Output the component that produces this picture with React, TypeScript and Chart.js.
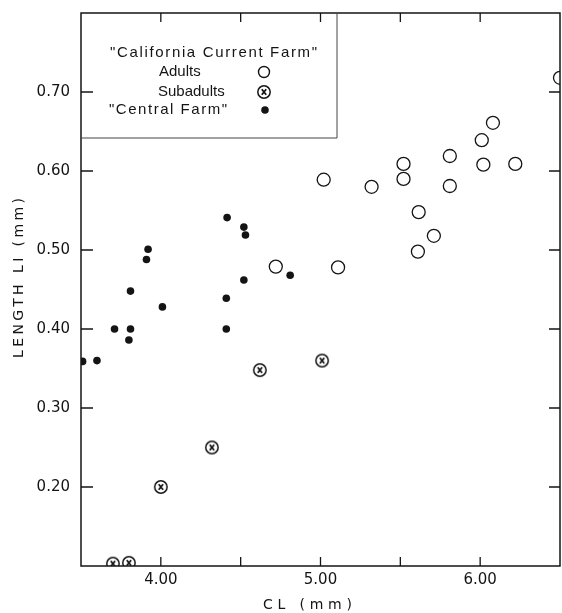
import React, { useEffect, useRef } from "react";
import { Chart, registerables } from "chart.js";

Chart.register(...registerables);

// ---- data (CL in mm, LI length in mm) ----
const adultsCL = [4.72, 5.02, 5.11, 5.32, 5.52, 5.52, 5.615, 5.61, 5.71, 5.81, 5.81, 6.01, 6.02, 6.08, 6.22, 6.5];
const adultsLI = [0.479, 0.589, 0.478, 0.58, 0.609, 0.59, 0.548, 0.498, 0.518, 0.619, 0.581, 0.639, 0.608, 0.661, 0.609, 0.718];

const subadultsCL = [3.7, 3.8, 4.0, 4.32, 4.62, 5.01];
const subadultsLI = [0.103, 0.104, 0.2, 0.25, 0.348, 0.36];

const centralCL = [3.51, 3.6, 3.71, 3.81, 3.8, 3.81, 3.91, 3.92, 4.01, 4.415, 4.52, 4.53, 4.52, 4.41, 4.41, 4.81];
const centralLI = [0.359, 0.36, 0.4, 0.4, 0.386, 0.448, 0.488, 0.501, 0.428, 0.541, 0.529, 0.519, 0.462, 0.439, 0.4, 0.468];

const xTickLabels: Record<string, string> = { "4": "4.00", "5": "5.00", "6": "6.00" };
const yTickLabels: Record<string, string> = {
  "0.2": "0.20",
  "0.3": "0.30",
  "0.4": "0.40",
  "0.5": "0.50",
  "0.6": "0.60",
  "0.7": "0.70",
};

const legendTitle = '"California Current Farm"';
const legendAdults = "Adults";
const legendSubadults = "Subadults";
const legendCentral = '"Central Farm"';
const xTitle = "CL (mm)";
const yTitle = "LENGTH LI (mm)";

const INK = "#141414";

function makeCrossCircle(): HTMLCanvasElement {
  const c = document.createElement("canvas");
  c.width = 16;
  c.height = 16;
  const g = c.getContext("2d")!;
  g.strokeStyle = INK;
  g.lineWidth = 1.5;
  g.beginPath();
  g.arc(8, 8, 6.2, 0, Math.PI * 2);
  g.stroke();
  g.lineWidth = 1.8;
  g.beginPath();
  g.moveTo(5.8, 5.3);
  g.lineTo(10.2, 10.7);
  g.moveTo(10.2, 5.3);
  g.lineTo(5.8, 10.7);
  g.stroke();
  return c;
}

function spacedText(ctx: CanvasRenderingContext2D, text: string, left: number, cy: number, width: number) {
  (ctx as any).letterSpacing = "0px";
  const w = ctx.measureText(text).width;
  const sp = Math.max(0, (width - w) / Math.max(1, text.length - 1));
  (ctx as any).letterSpacing = sp + "px";
  ctx.textAlign = "left";
  ctx.textBaseline = "middle";
  ctx.fillText(text, left, cy);
  (ctx as any).letterSpacing = "0px";
}

export default function App() {
  const ref = useRef<HTMLCanvasElement | null>(null);

  useEffect(() => {
    if (!ref.current) return;
    const crossImg = makeCrossCircle();

    const framePlugin = {
      id: "frameTicks",
      beforeDatasetsDraw(chart: any) {
        const { ctx, chartArea: a, scales } = chart;
        const xs = scales.x;
        const ys = scales.y;
        ctx.save();
        ctx.strokeStyle = INK;
        ctx.lineWidth = 1.5;
        ctx.strokeRect(a.left, a.top, a.right - a.left, a.bottom - a.top);
        ctx.lineWidth = 1.3;
        ctx.beginPath();
        for (const t of xs.ticks) {
          const v = t.value;
          if (v <= xs.min + 1e-6 || v >= xs.max - 1e-6) continue;
          const px = xs.getPixelForValue(v);
          ctx.moveTo(px, a.bottom);
          ctx.lineTo(px, a.bottom - 9);
          ctx.moveTo(px, a.top);
          ctx.lineTo(px, a.top + 9);
        }
        for (const t of ys.ticks) {
          const v = t.value;
          if (v <= ys.min + 1e-6 || v >= ys.max - 1e-6) continue;
          const py = ys.getPixelForValue(v);
          ctx.moveTo(a.left, py);
          ctx.lineTo(a.left + 12, py);
          ctx.moveTo(a.right, py);
          ctx.lineTo(a.right - 11, py);
        }
        ctx.stroke();
        ctx.restore();
      },
      afterDatasetsDraw(chart: any) {
        const { ctx, chartArea: a } = chart;
        const L = a.left;
        const T = a.top;
        ctx.save();
        // legend box
        ctx.strokeStyle = "#444";
        ctx.lineWidth = 1;
        ctx.beginPath();
        ctx.moveTo(L, T + 125);
        ctx.lineTo(L + 256, T + 125);
        ctx.lineTo(L + 256, T);
        ctx.stroke();

        ctx.fillStyle = INK;
        ctx.font = '15px "Liberation Sans"';
        spacedText(ctx, legendTitle, L + 29, T + 40, 207);
        spacedText(ctx, legendAdults, L + 78, T + 59, 39);
        spacedText(ctx, legendSubadults, L + 77, T + 79, 53);
        spacedText(ctx, legendCentral, L + 28, T + 97, 118);

        // symbols
        ctx.strokeStyle = INK;
        ctx.lineWidth = 1.4;
        ctx.beginPath();
        ctx.arc(L + 183, T + 59, 5.5, 0, Math.PI * 2);
        ctx.stroke();
        ctx.drawImage(crossImg, L + 183 - 8, T + 79 - 8);
        ctx.beginPath();
        ctx.arc(L + 184, T + 97, 3.8, 0, Math.PI * 2);
        ctx.fill();

        // axis titles
        ctx.font = '14px "DejaVu Sans"';
        spacedText(ctx, xTitle, L + 182, a.bottom + 39, 89);
        ctx.translate(19, T + 265);
        ctx.rotate(-Math.PI / 2);
        spacedText(ctx, yTitle, -80, 0, 160);
        ctx.restore();
      },
    };

    const chart = new Chart(ref.current, {
      type: "scatter",
      data: {
        datasets: [
          {
            label: "Adults",
            data: adultsCL.map((x, i) => ({ x, y: adultsLI[i] })),
            pointStyle: "circle",
            pointRadius: 6.5,
            borderColor: INK,
            backgroundColor: "rgba(0,0,0,0)",
            borderWidth: 1.3,
          },
          {
            label: "Subadults",
            data: subadultsCL.map((x, i) => ({ x, y: subadultsLI[i] })),
            pointStyle: crossImg,
            pointRadius: 7,
          },
          {
            label: "Central Farm",
            data: centralCL.map((x, i) => ({ x, y: centralLI[i] })),
            pointStyle: "circle",
            pointRadius: 3.8,
            borderWidth: 0,
            backgroundColor: INK,
            borderColor: INK,
          },
        ],
      },
      options: {
        animation: false,
        responsive: false,
        maintainAspectRatio: false,
        events: [],
        layout: { autoPadding: false, padding: { left: 0, top: 13, right: 2, bottom: 0 } },
        plugins: {
          legend: { display: false },
          tooltip: { enabled: false },
          title: { display: false },
        },
        scales: {
          x: {
            type: "linear",
            min: 3.5,
            max: 6.5,
            grid: { display: false, drawTicks: false },
            border: { display: false },
            ticks: {
              stepSize: 0.5,
              padding: 5,
              color: INK,
              font: { family: "DejaVu Sans", size: 15 },
              maxRotation: 0,
              autoSkip: false,
              callback: (v: any) => xTickLabels[String(Math.round(Number(v) * 100) / 100)] ?? "",
            },
            afterFit: (s: any) => {
              s.height = 47;
              s.paddingLeft = 0;
              s.paddingRight = 0;
            },
          },
          y: {
            type: "linear",
            min: 0.1,
            max: 0.8,
            grid: { display: false, drawTicks: false },
            border: { display: false },
            ticks: {
              stepSize: 0.1,
              padding: 11,
              color: INK,
              font: { family: "DejaVu Sans", size: 15 },
              autoSkip: false,
              callback: (v: any) => yTickLabels[String(Math.round(Number(v) * 100) / 100)] ?? "",
            },
            afterFit: (s: any) => {
              s.width = 81;
              s.paddingTop = 0;
              s.paddingBottom = 0;
            },
          },
        },
      },
      plugins: [framePlugin],
    } as any);

    return () => chart.destroy();
  }, []);

  return (
    <div style={{ position: "absolute", left: 0, top: 0, width: 562, height: 613, background: "#fff" }}>
      <canvas ref={ref} width={562} height={613} style={{ display: "block", width: 562, height: 613 }} />
    </div>
  );
}
